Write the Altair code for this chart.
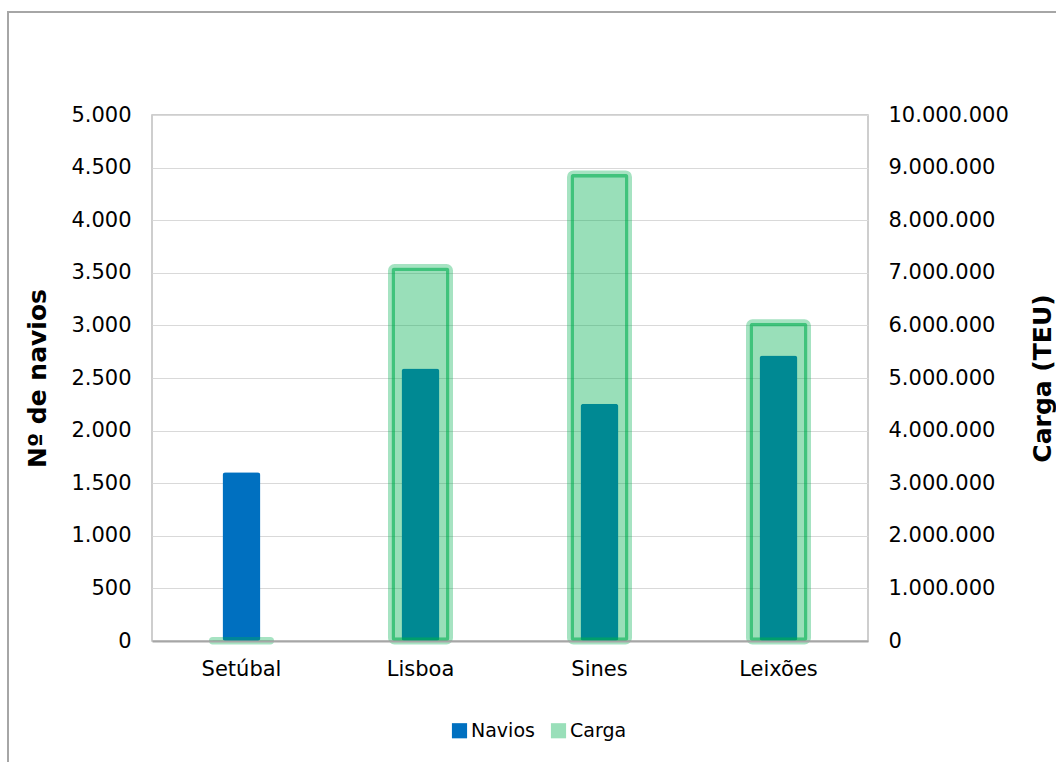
import altair as alt
import pandas as pd

portos = ["Setúbal", "Lisboa", "Sines", "Leixões"]
navios = [1605, 2590, 2255, 2715]
carga = [10000, 7100000, 8880000, 6050000]

df = pd.DataFrame({"Porto": portos, "Navios": navios, "Carga": carga})

FONT = "DejaVu Sans"
fmt = "replace(format(datum.value, ','), /,/g, '.')"

color_scale = alt.Scale(domain=["Navios", "Carga"],
                        range=["#0070C0", "rgba(0,176,80,0.4)"])
legend = alt.Legend(title=None, orient="none", legendX=298, legendY=606,
                    direction="horizontal", symbolType="square", symbolSize=230,
                    symbolStrokeWidth=0, labelFontSize=19, labelFont=FONT,
                    labelColor="#000000", columnPadding=14, labelOffset=2)

x_enc = alt.X("Porto:N", sort=portos, title=None,
              scale=alt.Scale(paddingInner=0, paddingOuter=0),
              axis=alt.Axis(labelAngle=0, labelFontSize=21, labelFont=FONT,
                            labelColor="#000000", labelPadding=17, ticks=False,
                            domainColor="#A6A6A6", domainWidth=2, zindex=1))

base = alt.Chart(df)

navios_bars = base.transform_calculate(serie="'Navios'").mark_bar(
    size=38, cornerRadius=3
).encode(
    x=x_enc,
    y=alt.Y("Navios:Q", scale=alt.Scale(domain=[0, 5000]),
            axis=alt.Axis(title="Nº de navios", values=list(range(0, 5001, 500)),
                          labelExpr=fmt, labelFontSize=21, labelFont=FONT,
                          labelColor="#000000", labelPadding=21, ticks=False,
                          domain=False, grid=True, gridColor="#D9D9D9",
                          titleFontSize=25, titleFont=FONT, titleFontWeight="bold",
                          titleColor="#000000", titleAngle=270, titleX=-115,
                          titleY=263, titleAlign="center", titleBaseline="middle")),
    color=alt.Color("serie:N", scale=color_scale, legend=legend),
)

carga_bars = base.transform_calculate(serie="'Carga'").mark_bar(
    size=58, cornerRadius=3, stroke="#00B050", strokeOpacity=0.35,
    strokeWidth=7, strokeJoin="round"
).encode(
    x=x_enc,
    y=alt.Y("Carga:Q", scale=alt.Scale(domain=[0, 10000000]),
            axis=alt.Axis(title="Carga (TEU)", orient="right",
                          values=list(range(0, 10000001, 1000000)),
                          labelExpr=fmt, labelFontSize=21, labelFont=FONT,
                          labelColor="#000000", labelPadding=20, ticks=False,
                          domain=False, grid=False,
                          titleFontSize=25, titleFont=FONT, titleFontWeight="bold",
                          titleColor="#000000", titleAngle=270, titleX=174,
                          titleY=263, titleAlign="center", titleBaseline="middle")),
    color=alt.Color("serie:N", scale=color_scale, legend=legend),
)

frame = alt.Chart(pd.DataFrame({"a": [0]})).mark_rect(
    fill=None, stroke="#A6A6A6", strokeWidth=2
).encode(
    x=alt.value(-144), x2=alt.value(1100),
    y=alt.value(-103), y2=alt.value(800),
)

chart = alt.layer(frame, navios_bars, carga_bars).resolve_scale(
    y="independent"
).properties(
    width=716, height=526,
    autosize=alt.AutoSizeParams(type="none"),
    padding={"left": 152, "top": 115, "right": 188, "bottom": 121},
).configure_view(stroke="#BFBFBF", strokeWidth=1.5)

chart.save("out.html", embed_options={"renderer": "svg", "actions": False})
